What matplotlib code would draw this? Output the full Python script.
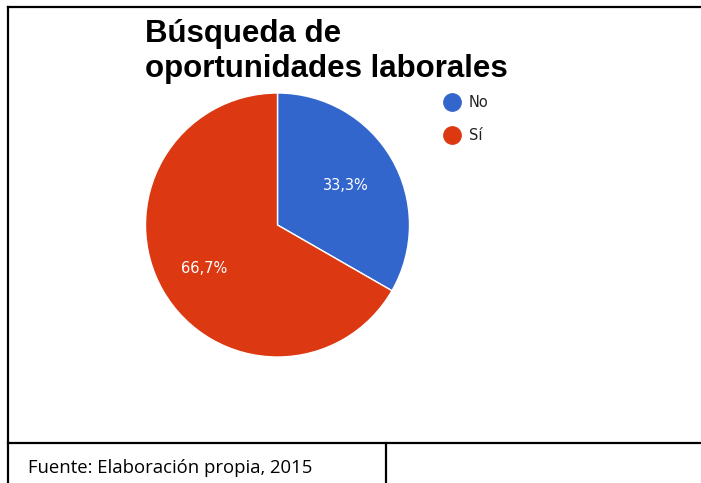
import matplotlib
matplotlib.use("Agg")
import matplotlib.pyplot as plt
from matplotlib.lines import Line2D
import numpy as np

categories = ["No", "Sí"]
values = [33.3, 66.7]
pct_labels = ["33,3%", "66,7%"]
colors = ["#3366CC", "#DC3912"]
title = "Búsqueda de\noportunidades laborales"
source = "Fuente: Elaboración propia, 2015"

W, H = 701, 483
fig = plt.figure(figsize=(W / 100, H / 100), dpi=100)
fig.patch.set_facecolor("white")

def fx(px):
    return px / W

def fy(py):
    return 1 - py / H

# pie axes
cx, cy, r = 277.5, 225, 132
ax = fig.add_axes([fx(cx - r), fy(cy + r), 2 * r / W, 2 * r / H])
wedges, _ = ax.pie(values, colors=colors, startangle=90, counterclock=False,
                   radius=1, wedgeprops=dict(edgecolor="white", linewidth=1.0))
ax.set_xlim(-1, 1)
ax.set_ylim(-1, 1)
ax.set_aspect("auto")
ax.axis("off")

# percentage labels
ang = 90.0
for v, lab in zip(values, pct_labels):
    span = v / sum(values) * 360
    mid = np.deg2rad(ang - span / 2)
    ang -= span
    ax.text(0.6 * np.cos(mid) - (0.04 if v > 50 else 0.0), 0.6 * np.sin(mid) - (0.03 if v > 50 else 0.0),
            lab, color="white", ha="center", va="center", fontsize=10.5, family="DejaVu Sans")

# title
fig.text(fx(145), fy(77), title, ha="left", va="baseline", fontsize=22.5,
         fontweight="bold", family="Liberation Sans", linespacing=1.22)

# legend
handles = [Line2D([], [], marker="o", linestyle="none", markersize=12.5,
                  markerfacecolor=c, markeredgecolor=c) for c in colors]
fig.legend(handles, categories, loc="upper left", bbox_to_anchor=(fx(443), fy(95)),
           frameon=False, labelspacing=1.25, handletextpad=0.55,
           borderpad=0, borderaxespad=0, handlelength=1.2,
           labelcolor="#222222",
           prop=dict(family="DejaVu Sans", size=10.5))

# frame lines
lw = 1.6
def hline(x0, x1, y):
    fig.add_artist(Line2D([fx(x0), fx(x1)], [fy(y), fy(y)], color="black", lw=lw,
                          transform=fig.transFigure))

def vline(x, y0, y1):
    fig.add_artist(Line2D([fx(x), fx(x)], [fy(y0), fy(y1)], color="black", lw=lw,
                          transform=fig.transFigure))

hline(8, W, 7)
vline(8, 7, H)
hline(8, W, 443)
vline(386, 443, H)

fig.text(fx(28), fy(473), source, ha="left", va="baseline", fontsize=13.3,
         family="Open Sans")

fig.savefig("out.png", dpi=100, facecolor="white")
